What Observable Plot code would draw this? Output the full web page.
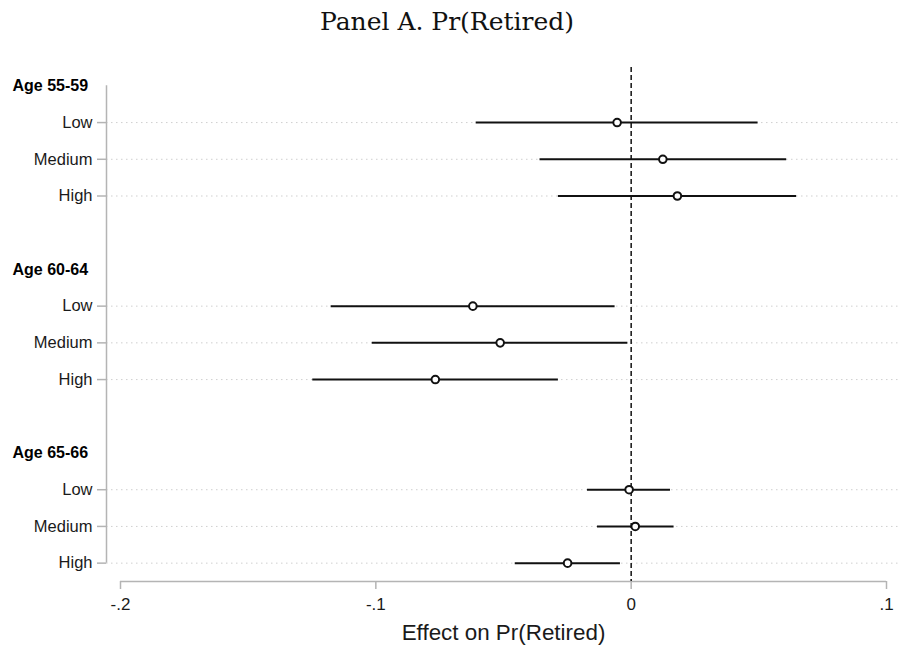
<!DOCTYPE html>
<html>
<head>
<meta charset="utf-8">
<script src="https://cdn.jsdelivr.net/npm/d3@7"></script>
<script src="https://cdn.jsdelivr.net/npm/@observablehq/plot@0.6"></script>
<style>
  body { margin: 0; background: #fff; }
  #title {
    width: 902px; height: 44px; line-height: 44px; box-sizing: border-box;
    padding-right: 8px; text-align: center;
    font-family: "DejaVu Serif", serif; font-size: 25px; color: #111;
  }
</style>
</head>
<body>
<div id="title">Panel A. Pr(Retired)</div>
<div id="chart"></div>
<script>
// Age groups and income levels
const groups = ["Age 55-59", "Age 60-64", "Age 65-66"];
const levels = ["Low", "Medium", "High"];

// Point estimates and confidence bounds, ordered group by group, level by level
const estimates = [-0.0055, 0.0124, 0.0181, -0.0620, -0.0513, -0.0767, -0.0008, 0.0016, -0.0249];
const lower     = [-0.0607, -0.0357, -0.0285, -0.1175, -0.1014, -0.1247, -0.0171, -0.0132, -0.0454];
const upper     = [0.0497, 0.0609, 0.0648, -0.0063, -0.0013, -0.0285, 0.0154, 0.0168, -0.0042];

// Horizontal axis
const xDomain = [-0.2, 0.1];
const xTicks = [-0.2, -0.1, 0, 0.1];
const xTickLabels = ["-.2", "-.1", "0", ".1"];
const xLabel = "Effect on Pr(Retired)";

// Row layout: each group gets a header row, three level rows and a spacer
const rows = [];
groups.forEach((g, gi) => levels.forEach((lv, li) => {
  const k = gi * levels.length + li;
  rows.push({group: g, level: lv, row: gi * 5 + 1 + li, est: estimates[k], lo: lower[k], hi: upper[k]});
}));
const headers = groups.map((g, gi) => ({label: g, row: gi * 5}));
const rowLabel = new Map(rows.map(d => [d.row, d.level]));
const firstRow = 0, lastRow = d3.max(rows, d => d.row);
const yDomain = [firstRow - 0.5, lastRow + 0.5];

const axisGray = "#b4b4b4";
const ink = "#1a1a1a";

const chart = Plot.plot({
  width: 902,
  height: 606,
  marginLeft: 106,
  marginRight: 2,
  marginTop: 23,
  marginBottom: 69,
  style: {fontFamily: "'Liberation Sans', Arial, sans-serif", color: ink, background: "#fff"},
  x: {domain: xDomain, insetLeft: 14, insetRight: 14, label: null},
  y: {domain: yDomain, reverse: true, label: null},
  marks: [
    // dotted guide lines for each level row
    Plot.ruleY(rows, {y: "row", stroke: "#cfcfcf", strokeWidth: 1, strokeDasharray: "1.5,3.5"}),
    // axes lines
    Plot.ruleY([yDomain[1]], {x1: xDomain[0], x2: xDomain[1], stroke: axisGray, strokeWidth: 1.5}),
    Plot.ruleX([xDomain[0]], {y1: firstRow, y2: lastRow, dx: -14, stroke: axisGray, strokeWidth: 1.5}),
    Plot.axisX({
      ticks: xTicks,
      tickFormat: d => xTickLabels[xTicks.indexOf(d)],
      tickSize: 8, tickPadding: 8,
      stroke: axisGray, strokeWidth: 1.5, fill: ink, fontSize: 17, label: null
    }),
    Plot.axisY({
      ticks: rows.map(d => d.row),
      tickFormat: d => rowLabel.get(d),
      tickSize: 9, tickPadding: 5,
      stroke: axisGray, strokeWidth: 1.5, fill: ink, fontSize: 16.5, label: null
    }),
    // group headers
    Plot.text(headers, {
      y: "row", text: "label", frameAnchor: "left", textAnchor: "start", dx: -94,
      fontWeight: "bold", fontSize: 16, fill: "#000"
    }),
    // reference line at zero
    Plot.ruleX([0], {y1: yDomain[0], y2: yDomain[1], stroke: "#111", strokeWidth: 1.5, strokeDasharray: "5,3"}),
    // confidence intervals
    Plot.ruleY(rows, {y: "row", x1: "lo", x2: "hi", stroke: "#111", strokeWidth: 2}),
    // point estimates
    Plot.dot(rows, {x: "est", y: "row", r: 3.8, stroke: "#111", strokeWidth: 2, fill: "#fff"}),
    // axis title
    Plot.text([xLabel], {frameAnchor: "bottom", dy: 58, fontSize: 22.4, fill: ink})
  ]
});
document.getElementById("chart").appendChild(chart);
</script>
</body>
</html>
